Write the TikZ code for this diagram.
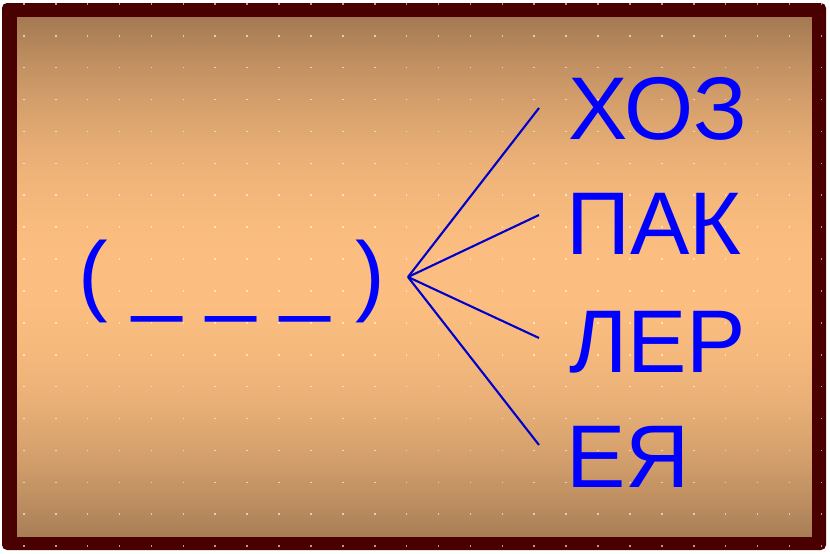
\documentclass[tikz,border=0pt]{standalone}
\usepackage{fontspec}
\setmainfont{Liberation Sans}
\definecolor{frameRed}{RGB}{74,0,0}
\definecolor{paperTop}{RGB}{164,121,82}
\definecolor{paperMid}{RGB}{252,190,128}
\definecolor{paperBot}{RGB}{168,126,86}
\definecolor{wordBlue}{RGB}{0,0,255}
\usetikzlibrary{positioning}

\begin{document}
\begin{tikzpicture}[x=1pt, y=-1pt,
		word/.style={anchor=base west, inner sep=0pt, text=wordBlue,
			font=\fontsize{89}{89}\selectfont},
		fork/.style={draw=wordBlue!80!black, line width=2.1pt}]
		%-------------------------------------------------------------------------------
		% frame
		%-------------------------------------------------------------------------------
		\useasboundingbox (0,0) rectangle (830,554);
		\fill[white] (0,0) rectangle (830,554);
		\fill[frameRed, rounded corners=5pt] (2,3) rectangle (826,550);
		% paper, light in the middle
		\begin{scope}
			\clip (17,17) rectangle (812,536);
			\foreach \k in {0,...,259}{
				\pgfmathsetmacro\mixp{100*(1-(2*\k/259-1)^2)}
				\ifnum\k<130 \colorlet{strip}{paperMid!\mixp!paperTop}
				\else \colorlet{strip}{paperMid!\mixp!paperBot}\fi
				\fill[strip] (17,17+2*\k) rectangle (812,19.6+2*\k);
			}
		\end{scope}
		% dotted grid
		\foreach \i in {0,...,25}
			\foreach \j in {0,...,17}
				\fill[white, opacity=0.6] (23+31.9*\i,3+31.9*\j) rectangle +(1.6,1.6);
		
		% words
		\node[word] (blank) at (78,304) {(\ \_\ \_\ \_\ )};
		\node[word] (hoz) at (568,139) {ХОЗ};
		\node[word] (pak) at (566,254) {ПАК};
		\node[word] (ler) at (569,372) {ЛЕР};
		\node[word] (eya) at (566,487) {ЕЯ};
		
		% fork
		\coordinate (split) at (408,277);
		\coordinate (hoz-end) at (539,108);
		\coordinate (pak-end) at (539,215);
		\coordinate (ler-end) at (539,338);
		\coordinate (eya-end) at (539,445);
		\foreach \w in {hoz,pak,ler,eya}
			\draw[fork] (split) -- (\w-end);
\end{tikzpicture}
\end{document}
